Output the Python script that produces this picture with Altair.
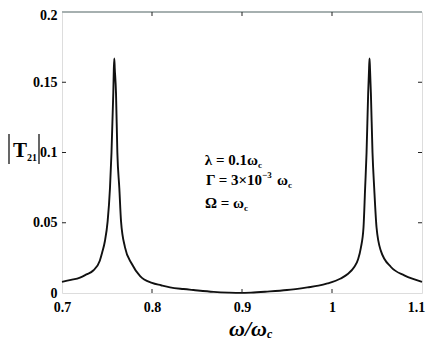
import altair as alt
import pandas as pd

# ---- data ----
omega = [0.700, 0.710, 0.720, 0.727, 0.7347, 0.742, 0.7447, 0.7477, 0.7507, 0.7533,
         0.755, 0.757, 0.7576, 0.7581, 0.7586, 0.760, 0.7615, 0.7637, 0.7656, 0.770,
         0.7775, 0.7868, 0.800, 0.810, 0.820, 0.835, 0.846, 0.8685, 0.885, 0.8983,
         0.910, 0.928, 0.950, 0.9727, 0.985, 0.995, 1.0097, 1.0175, 1.0247, 1.029,
         1.032, 1.035, 1.0368, 1.0384, 1.0402, 1.0412, 1.0417, 1.0422, 1.0432, 1.045,
         1.0469, 1.0495, 1.0543, 1.0655, 1.0803, 1.090, 1.100]
t21 = [0.0079, 0.0093, 0.0110, 0.0132, 0.0160, 0.0230, 0.0290, 0.0370, 0.0510, 0.0746,
       0.1000, 0.1425, 0.1600, 0.1670, 0.1600, 0.1425, 0.1000, 0.0746, 0.0510, 0.0325,
       0.0208, 0.0120, 0.0072, 0.0055, 0.0040, 0.0028, 0.0021, 0.0008, 0.0003, 0.0001,
       0.0003, 0.0010, 0.0021, 0.0040, 0.0052, 0.0068, 0.0103, 0.0135, 0.0185, 0.0240,
       0.0320, 0.0466, 0.0746, 0.1000, 0.1425, 0.1600, 0.1670, 0.1600, 0.1425, 0.1000,
       0.0746, 0.0466, 0.0300, 0.0185, 0.0126, 0.0100, 0.0079]
x_ticks = [0.7, 0.8, 0.9, 1.0, 1.1]
y_ticks = [0, 0.05, 0.1, 0.15, 0.2]
x_inner_ticks = [0.8, 0.9, 1.0]
y_inner_ticks = [0.05, 0.1, 0.15]

W, H = 360, 281
SERIF = "Liberation Serif, Times New Roman, DejaVu Serif, serif"

curve_df = pd.DataFrame({"w": omega, "t": t21})
xt_df = pd.DataFrame({"w": x_inner_ticks})
yt_df = pd.DataFrame({"t": y_inner_ticks})
one = pd.DataFrame({"k": [0]})

xscale = alt.Scale(domain=[0.7, 1.1], nice=False, zero=False)
yscale = alt.Scale(domain=[0, 0.2], nice=False)

x_axis = alt.Axis(values=x_ticks, format="~g", title=None, ticks=False, domain=False,
                  grid=False, labelFont=SERIF, labelFontWeight="bold", labelFontSize=14,
                  labelColor="#000", labelPadding=7, labelOverlap=False, labelFlush=False,
                  labelOffset=alt.condition("datum.value > 1.05", alt.value(-6), alt.value(0)))
y_axis = alt.Axis(values=y_ticks, format="~g", title=None, ticks=False, domain=False,
                  grid=False, labelFont=SERIF, labelFontWeight="bold", labelFontSize=14,
                  labelColor="#000", labelPadding=5, labelOverlap=False, labelFlush=False,
                  labelOffset=alt.condition("datum.value > 0.19", alt.value(3), alt.value(0)))

line = alt.Chart(curve_df).mark_line(color="#111", strokeWidth=1.9, interpolate="monotone").encode(
    x=alt.X("w:Q", scale=xscale, axis=x_axis),
    y=alt.Y("t:Q", scale=yscale, axis=y_axis),
)

top_rule = alt.Chart(one).mark_rule(color="#a6b0b0", strokeWidth=1.8).encode(
    x=alt.value(0), x2=alt.value(W), y=alt.value(0))

tick_color = "#222"
bottom_ticks = alt.Chart(xt_df).mark_rule(color=tick_color, strokeWidth=1).encode(
    x=alt.X("w:Q", scale=xscale), y=alt.value(H), y2=alt.value(H - 4))
top_ticks = alt.Chart(xt_df).mark_rule(color=tick_color, strokeWidth=1).encode(
    x=alt.X("w:Q", scale=xscale), y=alt.value(0), y2=alt.value(4))
left_ticks = alt.Chart(yt_df).mark_rule(color=tick_color, strokeWidth=1).encode(
    y=alt.Y("t:Q", scale=yscale), x=alt.value(0), x2=alt.value(4))
right_ticks = alt.Chart(yt_df).mark_rule(color=tick_color, strokeWidth=1).encode(
    y=alt.Y("t:Q", scale=yscale), x=alt.value(W - 4), x2=alt.value(W))


def txt(s, px, py, size, italic=False, align="left"):
    return alt.Chart(one).mark_text(
        text=s, font=SERIF, fontSize=size, fontWeight="bold",
        fontStyle="italic" if italic else "normal", align=align, baseline="alphabetic",
        color="#000").encode(x=alt.value(px), y=alt.value(py))


texts = [
    # annotations (main part right-aligned so sub/superscripts sit against it)
    txt("λ = 0.1ω", 196, 153, 15, align="right"),
    txt("c", 196, 156, 9),
    txt("Γ = 3×10", 200, 173, 15, align="right"),
    txt("−3", 200, 166, 9),
    txt("ω", 226, 173, 15, align="right"),
    txt("c", 226, 176, 9),
    txt("Ω = ω", 182, 196, 15, align="right"),
    txt("c", 182, 199, 9),
    # x title
    txt("ω/ω", 205, 324, 22, italic=True, align="right"),
    txt("c", 205, 326, 12, italic=True),
    # y title
    txt("T", -35, 145, 21, align="right"),
    txt("21", -35, 149, 10),
]
bars = [
    alt.Chart(one).mark_rule(color="#000", strokeWidth=1.2).encode(
        x=alt.value(-53), y=alt.value(122), y2=alt.value(152)),
    alt.Chart(one).mark_rule(color="#000", strokeWidth=1.2).encode(
        x=alt.value(-23), y=alt.value(122), y2=alt.value(152)),
]

chart = alt.layer(line, top_rule, bottom_ticks, top_ticks, left_ticks, right_ticks,
                  *texts, *bars).properties(
    width=W, height=H,
    autosize=alt.AutoSizeParams(type="none"),
    padding={"left": 54, "top": 4, "right": 5, "bottom": 49},
).configure_view(stroke="#111", strokeWidth=1.5).configure(background="white")

chart.save("out.html", embed_options={"renderer": "svg", "actions": False})
